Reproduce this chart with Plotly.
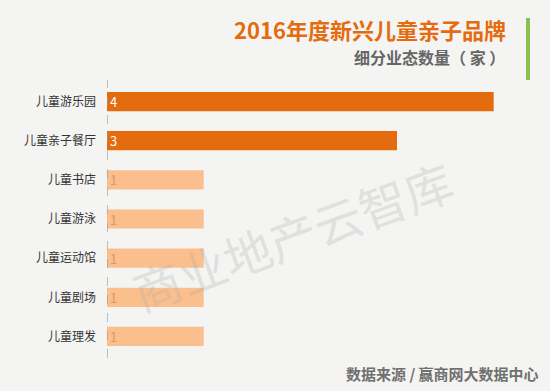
import plotly.graph_objects as go

categories = ["儿童游乐园", "儿童亲子餐厅", "儿童书店", "儿童游泳", "儿童运动馆", "儿童剧场", "儿童理发"]
values = [4, 3, 1, 1, 1, 1, 1]
bar_colors = ["#E46B0E", "#E46B0E", "#FBBE8D", "#FBBE8D", "#FBBE8D", "#FBBE8D", "#FBBE8D"]
text_colors = ["#FFFFFF", "#FFFFFF", "#E3965A", "#E3965A", "#E3965A", "#E3965A", "#E3965A"]

title = "2016年度新兴儿童亲子品牌"
subtitle = "细分业态数量（ 家 ）"
source = "数据来源 / 赢商网大数据中心"
watermark = "商业地产云智库"

font_cjk = "Noto Sans CJK SC"

fig = go.Figure()
fig.add_trace(go.Bar(
    y=categories, x=values, orientation="h",
    marker=dict(color=bar_colors, line=dict(width=0)),
    width=0.49,
    text=[str(v) for v in values],
    textposition="inside", insidetextanchor="start", textangle=0,
    constraintext="none",
    textfont=dict(family=font_cjk, size=13, color=text_colors),
    cliponaxis=False,
    hoverinfo="skip",
))

fig.add_shape(type="line", xref="x", yref="paper", x0=0, x1=0, y0=0, y1=1,
              line=dict(color="#9a9a9a", width=1.2, dash="dash"))

W, H = 550, 391
ml, mr, mt, mb = 107, 8, 80, 33
pw, ph = W - ml - mr, H - mt - mb

def px(x):
    return (x - ml) / pw

def py(y):
    return (H - y - mb) / ph

# watermark
fig.add_annotation(xref="paper", yref="paper", x=px(292), y=py(235), text=watermark,
                   showarrow=False, textangle=-20,
                   font=dict(family=font_cjk, size=48, color="rgba(175,175,175,0.30)"))

# title & subtitle
fig.add_annotation(xref="paper", yref="paper", x=px(508), y=py(29), text="<b>" + title + "</b>",
                   showarrow=False, xanchor="right", yanchor="middle",
                   font=dict(family=font_cjk, size=22, color="#E46B0E"))
fig.add_annotation(xref="paper", yref="paper", x=px(507), y=py(57), text="<b>" + subtitle + "</b>",
                   showarrow=False, xanchor="right", yanchor="middle",
                   font=dict(family=font_cjk, size=16, color="#666666"))
fig.add_annotation(xref="paper", yref="paper", x=px(541), y=py(373), text="<b>" + source + "</b>",
                   showarrow=False, xanchor="right", yanchor="middle",
                   font=dict(family=font_cjk, size=15, color="#707070"))

# green accent bar
fig.add_shape(type="rect", xref="paper", yref="paper",
              x0=px(526), x1=px(530), y0=py(80), y1=py(18),
              fillcolor="#8DC14F", line=dict(width=0))

fig.update_layout(
    width=W, height=H,
    margin=dict(l=ml, r=mr, t=mt, b=mb),
    paper_bgcolor="#F4F4F2", plot_bgcolor="rgba(0,0,0,0)",
    showlegend=False,
    xaxis=dict(range=[0, 4.5], visible=False, fixedrange=True),
    yaxis=dict(range=[6.55, -0.55], showgrid=False, zeroline=False, showline=False,
               ticks="", ticklabelstandoff=10,
               tickfont=dict(family=font_cjk, size=12, color="#333333")),
    font=dict(family=font_cjk),
)

fig.write_html("out.html")
